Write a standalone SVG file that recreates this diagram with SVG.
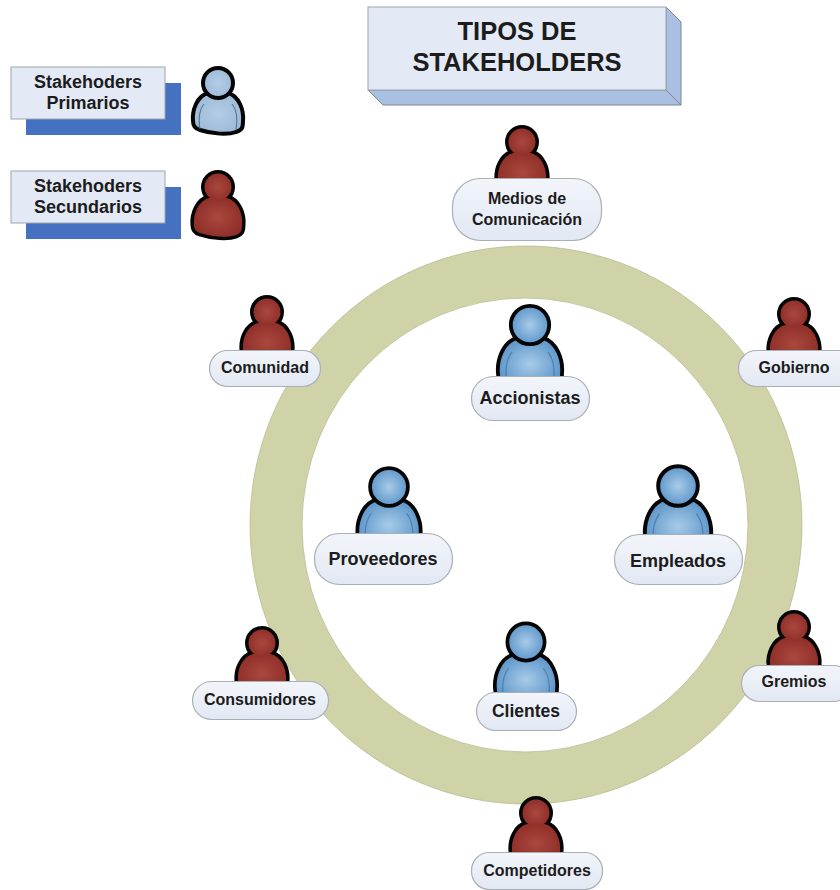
<svg xmlns="http://www.w3.org/2000/svg" width="840" height="890" viewBox="0 0 840 890">
<style>
text{font-family:"Liberation Sans",Arial,sans-serif;font-weight:bold;fill:#1c1c1c;text-anchor:middle}
.pill{fill:url(#pillFill);stroke:#a9afb8;stroke-width:1.2}
.front{fill:#e4eaf5;stroke:#9ea5ad;stroke-width:1}
.shadow{fill:#4472c0}
.side{fill:#a9c0e2;stroke:#7c8794;stroke-width:1}
.s{font-size:16px}.l{font-size:18px}
.out{stroke:#050505;stroke-width:3;stroke-linejoin:round}
.leg{stroke:#050505;stroke-width:4;stroke-linejoin:round}
.blk{fill:#050505;stroke:#050505;stroke-width:7;stroke-linejoin:round}
</style>
<defs>
<radialGradient id="blue" cx="50%" cy="50%" r="60%"><stop offset="0" stop-color="#a8cbe8"/><stop offset="1" stop-color="#4f8cc4"/></radialGradient>
<radialGradient id="pale" cx="50%" cy="50%" r="60%"><stop offset="0" stop-color="#b4cde6"/><stop offset="1" stop-color="#9ab7d6"/></radialGradient>
<radialGradient id="red" cx="50%" cy="50%" r="60%"><stop offset="0" stop-color="#a8483e"/><stop offset="1" stop-color="#8c2c26"/></radialGradient>
<linearGradient id="pillFill" x1="0" y1="0" x2="0" y2="1"><stop offset="0" stop-color="#f2f5fa"/><stop offset="1" stop-color="#e2e8f3"/></linearGradient>
<path id="body" d="M-10,10C-21,13-26,27-25,38C-25,44-22,46-18,47C-6,51 10,52 18,49C24,47 25,45 25,38C26,27 21,13 10,10Z"/>
<path id="bodyr" d="M-9,11C-20,14-25,27-24,38C-24,43-21,45-18,46C-6,50 10,51 18,48C23,46 24,44 24,38C25,27 20,14 9,11Z"/>
<g id="pb"><use href="#body" fill="url(#blue)" class="out"/><path d="M-18,46C-20,34-18,26-14,21M18,46C20,34 18,26 14,21" fill="none" stroke="#2e5f8c" stroke-width="1" opacity=".5"/><circle r="15" fill="url(#blue)" class="out"/></g>
<g id="pp"><use href="#body" fill="url(#pale)" class="leg"/><path d="M-18,46C-20,34-18,26-14,21M18,46C20,34 18,26 14,21" fill="none" stroke="#55697e" stroke-width="1"/><circle r="15" fill="url(#pale)" class="leg"/></g>
<g id="pr"><use href="#bodyr" class="blk"/><circle r="13.500" class="blk"/><use href="#bodyr" fill="url(#red)"/><circle r="13.500" fill="url(#red)"/></g>
</defs>
<rect width="840" height="890" fill="#fff"/>
<g id="connectors"><path id="ring" fill-rule="evenodd" fill="#d0d2a8" stroke="#b9bc92" stroke-width=".8" d="M250,525a276,279 0 1,0 552,0a276,279 0 1,0 -552,0ZM302,525a223,227 0 1,0 446,0a223,227 0 1,0 -446,0Z"/></g>
<g id="title"><path class="side" d="M368,90L383,105H681L666,90Z"/><path class="side" d="M666,7L681,22V105L666,90Z"/><rect class="front" x="368" y="7" width="298" height="83"/><text x="517" y="40" font-size="25.500">TIPOS DE</text><text x="517" y="71" font-size="25.500">STAKEHOLDERS</text></g>
<g id="legend-primarios"><rect class="shadow" x="26" y="83" width="155" height="52"/><rect class="front" x="11" y="67" width="154" height="52"/><text class="l" x="88" y="88">Stakehoders</text><text class="l" x="88" y="109">Primarios</text><use href="#pp" x="218" y="83"/></g>
<g id="legend-secundarios"><rect class="shadow" x="26" y="187" width="155" height="52"/><rect class="front" x="11" y="171" width="154" height="52"/><text class="l" x="88" y="192">Stakehoders</text><text class="l" x="88" y="213">Secundarios</text><use href="#pr" x="218" y="187"/></g>
<g id="medios"><use href="#pr" x="522" y="142"/><rect class="pill" x="452.500" y="178.500" width="149" height="62" rx="28"/><text class="s" x="527" y="204">Medios de</text><text class="s" x="527" y="225">Comunicación</text></g>
<g id="comunidad"><use href="#pr" x="267" y="312"/><rect class="pill" x="209.500" y="350.500" width="111" height="36" rx="18"/><text class="s" x="265" y="373">Comunidad</text></g>
<g id="gobierno"><use href="#pr" x="794" y="314"/><rect class="pill" x="738.500" y="350.500" width="120" height="36" rx="18"/><text class="s" x="794" y="373">Gobierno</text></g>
<g id="accionistas"><use href="#pb" transform="translate(530,325) scale(1.28)"/><rect class="pill" x="471.500" y="376.500" width="118" height="44" rx="22"/><text class="l" x="530" y="404">Accionistas</text></g>
<g id="proveedores"><use href="#pb" transform="translate(389,487) scale(1.26)"/><rect class="pill" x="314.500" y="533.500" width="138" height="51" rx="25"/><text class="l" x="383" y="565">Proveedores</text></g>
<g id="empleados"><use href="#pb" transform="translate(678,486) scale(1.32)"/><rect class="pill" x="614.500" y="534.500" width="128" height="50" rx="25"/><text class="l" x="678" y="567">Empleados</text></g>
<g id="clientes"><use href="#pb" transform="translate(526,642) scale(1.24)"/><rect class="pill" x="476.500" y="692.500" width="100" height="38" rx="19"/><text font-size="17.500" x="526" y="717">Clientes</text></g>
<g id="consumidores"><use href="#pr" x="262" y="643"/><rect class="pill" x="192.500" y="681.500" width="136" height="38" rx="19"/><text class="s" x="260" y="705">Consumidores</text></g>
<g id="gremios"><use href="#pr" x="794" y="627"/><rect class="pill" x="741.500" y="665.500" width="110" height="36" rx="18"/><text class="s" x="794" y="687">Gremios</text></g>
<g id="competidores"><use href="#pr" x="536" y="813"/><rect class="pill" x="471.500" y="852.500" width="131" height="37" rx="18"/><text class="s" x="537" y="876">Competidores</text></g>
</svg>
